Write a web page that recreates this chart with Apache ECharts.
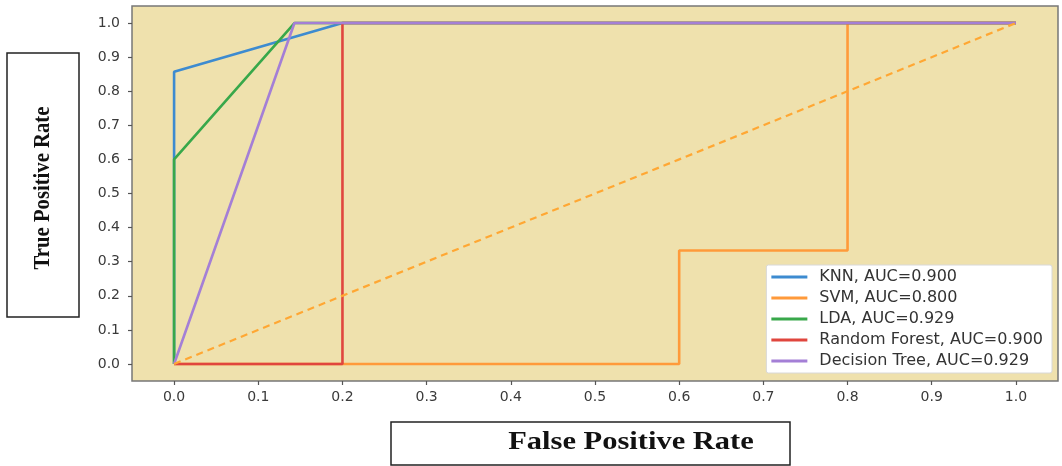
<!DOCTYPE html>
<html>
<head>
<meta charset="utf-8">
<script src="https://cdn.jsdelivr.net/npm/echarts@6/dist/echarts.min.js"></script>
<style>
html,body{margin:0;padding:0;background:#fff;}
#c{width:1062px;height:466px;}
</style>
</head>
<body>
<div id="c"></div>
<script>
const xTicks = [0.0,0.1,0.2,0.3,0.4,0.5,0.6,0.7,0.8,0.9,1.0];
const yTicks = [0.0,0.1,0.2,0.3,0.4,0.5,0.6,0.7,0.8,0.9,1.0];
const knnFpr = [0, 0, 0.2, 1];
const knnTpr = [0, 0.857, 1, 1];
const svmFpr = [0, 0.6, 0.6, 0.8, 0.8, 1];
const svmTpr = [0, 0, 0.333, 0.333, 1, 1];
const ldaFpr = [0, 0, 0.143, 1];
const ldaTpr = [0, 0.6, 1, 1];
const rfFpr = [0, 0.2, 0.2, 1];
const rfTpr = [0, 0, 1, 1];
const dtFpr = [0, 0.143, 1];
const dtTpr = [0, 1, 1];
const diagFpr = [0, 1];
const diagTpr = [0, 1];
const names = ['KNN, AUC=0.900','SVM, AUC=0.800','LDA, AUC=0.929','Random Forest, AUC=0.900','Decision Tree, AUC=0.929'];
const colors = ['#3d8bd0','#ff9a3a','#38a84a','#e0463e','#a47fd6'];

function pts(xs, ys){ return xs.map((x,i)=>[x, ys[i]]); }

const series = [
  [knnFpr,knnTpr],[svmFpr,svmTpr],[ldaFpr,ldaTpr],[rfFpr,rfTpr],[dtFpr,dtTpr]
].map((d,i)=>({
  name: names[i], type:'line', data: pts(d[0], d[1]), symbol:'none',
  lineStyle:{color:colors[i], width:2.6}, itemStyle:{color:colors[i]},
  z: 2+i, animation:false
}));
series.push({
  name:'diag', type:'line', data: pts(diagFpr, diagTpr), symbol:'none',
  lineStyle:{color:'#ffa733', width:2.2, type:[7,5]}, z:10, animation:false
});

const chart = echarts.init(document.getElementById('c'));
chart.setOption({
  animation:false,
  backgroundColor:'#fff',
  grid:{left:132, top:6, width:926, height:375, show:true, backgroundColor:'#efe1ad', borderColor:'#777', borderWidth:1.5},
  xAxis:{
    type:'value', min:-0.05, max:1.05,
    axisLine:{show:false, onZero:false},
    splitLine:{show:false},
    axisTick:{show:true, length:4, customValues: xTicks, lineStyle:{color:'#555', width:1.2}},
    axisLabel:{
      customValues: xTicks,
      formatter:v=>v.toFixed(1), color:'#3a3a3a', fontFamily:'DejaVu Sans', fontSize:14, margin:9
    }
  },
  yAxis:{
    type:'value', min:-0.05, max:1.05,
    axisLine:{show:false, onZero:false},
    splitLine:{show:false},
    axisTick:{show:true, length:4, customValues: yTicks, lineStyle:{color:'#555', width:1.2}},
    axisLabel:{
      customValues: yTicks,
      formatter:v=>v.toFixed(1), color:'#3a3a3a', fontFamily:'DejaVu Sans', fontSize:14, margin:12
    }
  },
  legend:{
    data: names, orient:'vertical', right:10, bottom:93,
    backgroundColor:'#fff', borderColor:'#d8d8d8', borderWidth:1, borderRadius:2,
    padding:[4,9,4,5], itemGap:5, itemWidth:36, itemHeight:3, icon:'rect',
    textStyle:{fontFamily:'DejaVu Sans', fontSize:16, lineHeight:16, color:'#333', padding:[0,0,0,7]}
  },
  graphic:[
    {type:'rect', shape:{x:7, y:53, width:72, height:264}, style:{fill:'#fff', stroke:'#222', lineWidth:1.5}},
    {type:'text', x:43, y:188, rotation:Math.PI/2, scaleX:0.9, style:{text:'True Positive Rate', font:'bold 23px "Liberation Serif"', fill:'#111', align:'center', verticalAlign:'middle'}},
    {type:'rect', shape:{x:391, y:422, width:399, height:43}, style:{fill:'#fff', stroke:'#222', lineWidth:1.5}},
    {type:'text', x:631, y:443, scaleX:1.22, style:{text:'False Positive Rate', font:'bold 25px "Liberation Serif"', fill:'#111', align:'center', verticalAlign:'middle'}}
  ],
  series: series
});
</script>
</body>
</html>
